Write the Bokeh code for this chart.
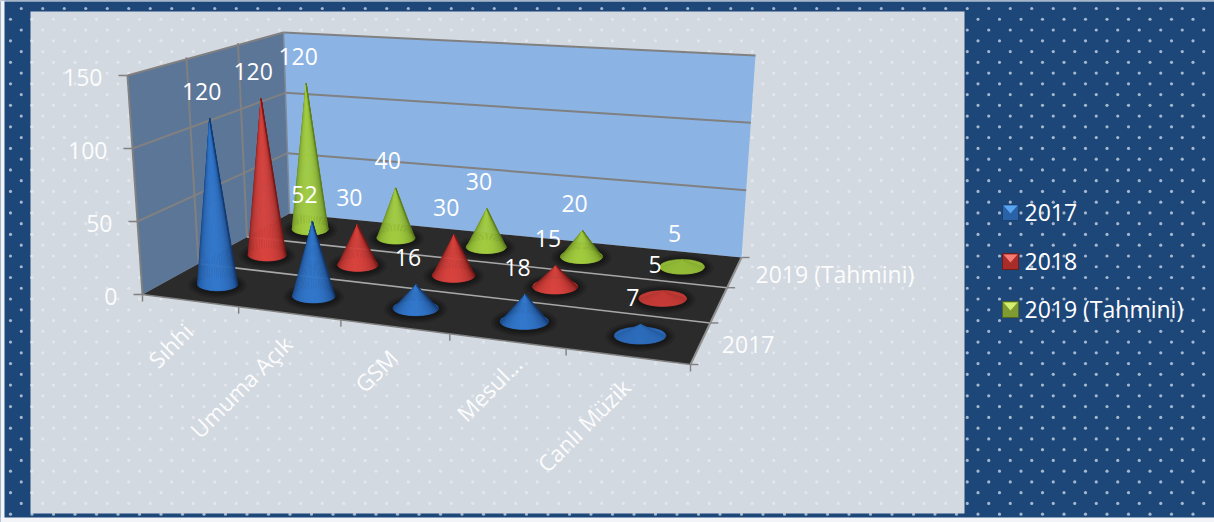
import numpy as np
from bokeh.plotting import figure
from bokeh.embed import file_html
from bokeh.resources import INLINE
from bokeh.models import Range1d
from bokeh.core.properties import value

categories = ["Sıhhi", "Umuma Açık", "GSM", "Mesul...", "Canlı Müzik"]
series_names = ["2017", "2018", "2019 (Tahmini)"]
values_2017 = [120, 52, 16, 18, 7]
values_2018 = [120, 30, 30, 15, 5]
values_2019 = [120, 40, 30, 20, 5]
y_ticks = [0, 50, 100, 150]

FONT = value("Open Sans")
FS = "23px"
BLUE_BG = "#1d4679"
PANEL = "#d3d9e1"
EDGE = "#f2f4f7"
SHADES = {"2017": ("#153a70", "#3378cc"), "2018": ("#761a18", "#d8443f"), "2019 (Tahmini)": ("#5c7d1c", "#a2cc40")}
LEG = {"2017": ("#2a62a8", "#58a4ee"), "2018": ("#a82c2a", "#f47a74"), "2019 (Tahmini)": ("#7f9c33", "#d3ef70")}

# 3D box corners in page pixels: u runs left to right, v front to back
FL, FR, BR, BL = map(np.array, [(142., 294.), (690., 364.), (741., 257.), (289., 213.)])
UP = {"FL": np.array([-15., -219.]), "BL": np.array([-6., -181.]), "BR": np.array([14., -202.]), "FR": np.array([20., -255.])}
YMAX = 150.
CONE_SCALE = 0.96

def homography(pts):
    src = [(0, 0), (1, 0), (1, 1), (0, 1)]
    A, b = [], []
    for (s, t), (x, y) in zip(src, pts):
        A.append([s, t, 1, 0, 0, 0, -s * x, -t * x]); b.append(x)
        A.append([0, 0, 0, s, t, 1, -s * y, -t * y]); b.append(y)
    return np.append(np.linalg.solve(np.array(A), np.array(b)), 1).reshape(3, 3)

H = homography([FL, FR, BR, BL])

def P(u, v, h=0.):
    """u in categories (0..5), v in series (0..3), h in value units."""
    s, t = u / 5., v / 3.
    q = H @ np.array([s, t, 1.])
    base = q[:2] / q[2]
    vec = (UP["FL"] * (1 - s) * (1 - t) + UP["FR"] * s * (1 - t) + UP["BR"] * s * t + UP["BL"] * (1 - s) * t)
    return base + vec * h / YMAX

p = figure(width=1214, height=522, x_range=Range1d(0, 1214), y_range=Range1d(522, 0),
           output_backend="svg", toolbar_location=None, min_border=0,
           background_fill_color=BLUE_BG, border_fill_color=BLUE_BG, outline_line_color=None)
p.xaxis.visible = False
p.yaxis.visible = False
p.grid.visible = False

# dotted pattern, panel, page edge
xs_d, ys_d = [], []
for r, y in enumerate(np.arange(8, 522, 10.76)):
    for x in np.arange(10 + ((r + 1) % 2) * 10.75, 1214, 21.5):
        xs_d.append(x); ys_d.append(y)
p.scatter(xs_d, ys_d, size=3.2, color="#c9d4e3", line_color=None, alpha=0.8)
p.quad(left=[30], right=[964], top=[11], bottom=[513], fill_color=PANEL, line_color=None)
xin = [a for a, b in zip(xs_d, ys_d) if 30 < a < 964 and 11 < b < 513]
yin = [b for a, b in zip(xs_d, ys_d) if 30 < a < 964 and 11 < b < 513]
p.scatter(xin, yin, size=3.2, color="#e4e8ee", line_color=None, alpha=0.9)
p.quad(left=[0], right=[4], top=[0], bottom=[522], fill_color=EDGE, line_color=None)
p.quad(left=[0], right=[1214], top=[0], bottom=[1], fill_color=EDGE, line_color=None)
p.quad(left=[0], right=[1214], top=[517], bottom=[522], fill_color=EDGE, line_color=None)

def poly(pts, **kw):
    p.patch([q[0] for q in pts], [q[1] for q in pts], **kw)

def seg(a, b, color="#808080", w=2.):
    p.line([a[0], b[0]], [a[1], b[1]], line_color=color, line_width=w)

# walls and floor
poly([P(0, 0), P(0, 3), P(0, 3, YMAX), P(0, 0, YMAX)], fill_color="#5c7698", line_color=None)
poly([P(0, 3), P(5, 3), P(5, 3, YMAX), P(0, 3, YMAX)], fill_color="#8bb3e4", line_color=None)
poly([P(0, 0), P(5, 0), P(5, 3), P(0, 3)], fill_color="#2b2b2b", line_color=None)

for t in y_ticks[1:]:
    seg(P(0, 0, t), P(0, 3, t))
    seg(P(0, 3, t), P(5, 3, t))
for v in [1, 2]:
    seg(P(0, v), P(0, v, YMAX))
    seg(P(0, v), P(5, v), color="#a8a8a8", w=1.6)
seg(P(0, 0), P(0, 0, YMAX))
seg(P(0, 3), P(0, 3, YMAX), color="#7f8a96", w=1.5)
seg(P(0, 0), P(5, 0), color="#808080", w=1.5)
seg(P(5, 0), P(5, 3), color="#909090", w=2)
# tick marks
for t in y_ticks:
    a = P(0, 0, t)
    seg(a, a + np.array([-9, 0.]), w=1.6)
for i in range(6):
    a = P(i, 0)
    seg(a, a + np.array([0., 7.]), w=1.4)
for v in range(4):
    a = P(5, v)
    seg(a, a + np.array([8., 0.]), w=1.4)

def mix(c1, c2, s):
    a = [int(c1[i:i + 2], 16) for i in (1, 3, 5)]
    b = [int(c2[i:i + 2], 16) for i in (1, 3, 5)]
    return "#%02x%02x%02x" % tuple(int(round(x + (y - x) * s)) for x, y in zip(a, b))

# cones
tx, ty, tt = [], [], []
data = {"2017": values_2017, "2018": values_2018, "2019 (Tahmini)": values_2019}
TH = np.linspace(0, 2 * np.pi, 40)
for v, name in reversed(list(enumerate(series_names))):
    dark, bright = SHADES[name]
    for i, val in enumerate(data[name]):
        c = P(i + .5, v + .5)
        apex = P(i + .5, v + .5, val * CONE_SCALE)
        rx = 0.215 * abs(P(i + 1, v + .5)[0] - P(i, v + .5)[0])
        ry = 0.33 * rx
        for grow, al in [(9, .25), (6, .4), (3, .6)]:
            p.patch(list(c[0] + (rx + grow) * np.cos(TH)), list(c[1] + 1 + (ry + grow * .7) * np.sin(TH)),
                    fill_color="#141414", fill_alpha=al, line_color=None)
        cx, cy, cc = [], [], []
        flat = min(1., (apex[1] * -1 + c[1]) / 40.)
        cx.append(list(c[0] + rx * np.cos(TH))); cy.append(list(c[1] + ry * np.sin(TH))); cc.append(mix(dark, bright, .75))
        N = 30
        ang = np.linspace(np.pi, 0, N + 1)
        for k in range(N):
            f = (k + .5) / N
            s = np.sin(np.pi * min(1, f / 0.95)) ** 0.7 if f < .95 else 0
            s = .75 + (s - .75) * flat if flat < .4 else s
            a0, a1 = ang[k], ang[k + 1]
            cx.append([apex[0], c[0] + rx * np.cos(a0), c[0] + rx * np.cos(a1)])
            cy.append([apex[1], c[1] + ry * np.sin(a0), c[1] + ry * np.sin(a1)])
            cc.append(mix(dark, bright, s))
        p.patches(cx, cy, fill_color=cc, line_color=cc, line_width=0.5)
        tx.append(apex[0] - 8); ty.append(apex[1] - 27); tt.append(str(val))
p.text(tx, ty, tt, text_color="white", text_font=FONT, text_font_size=FS,
       text_align="center", text_baseline="middle")

# axis labels
for t in y_ticks:
    a = P(0, 0, t)
    p.text([a[0] - 25], [a[1] + 2], [str(t)], text_color="white", text_font=FONT, text_font_size=FS,
           text_align="right", text_baseline="middle", text_alpha=.95)
for i, c in enumerate(categories):
    a = P(i + .5, 0)
    nudge = (12, -8) if c.endswith("...") else (0, 0)
    p.text([a[0] - 1 + nudge[0]], [a[1] + 27 + nudge[1]], [c], text_color="white", text_font=FONT, text_font_size="22.5px",
           text_align="right", text_baseline="middle", angle=np.pi / 4, text_alpha=.95)
for v, name in [(0.5, "2017"), (2.5, "2019 (Tahmini)")]:
    a = P(5, v)
    p.text([a[0] + 21], [a[1] + 2], [name], text_color="white", text_font=FONT, text_font_size=FS,
           text_align="left", text_baseline="middle", text_alpha=.95)

# legend
for name, y0 in zip(series_names, [204, 253, 301]):
    d, l = LEG[name]
    p.quad(left=[1002], right=[1018], top=[y0], bottom=[y0 + 16], fill_color=d, line_color=mix(d, "#000000", .35), line_width=1)
    p.patch([1003, 1017, 1010], [y0 + 1, y0 + 1, y0 + 9], fill_color=l, line_color=None)
    p.text([1024], [y0 + 7.5], [name], text_color="white", text_font=FONT, text_font_size=FS,
           text_align="left", text_baseline="middle")

open("out.html", "w").write(file_html(p, INLINE))
